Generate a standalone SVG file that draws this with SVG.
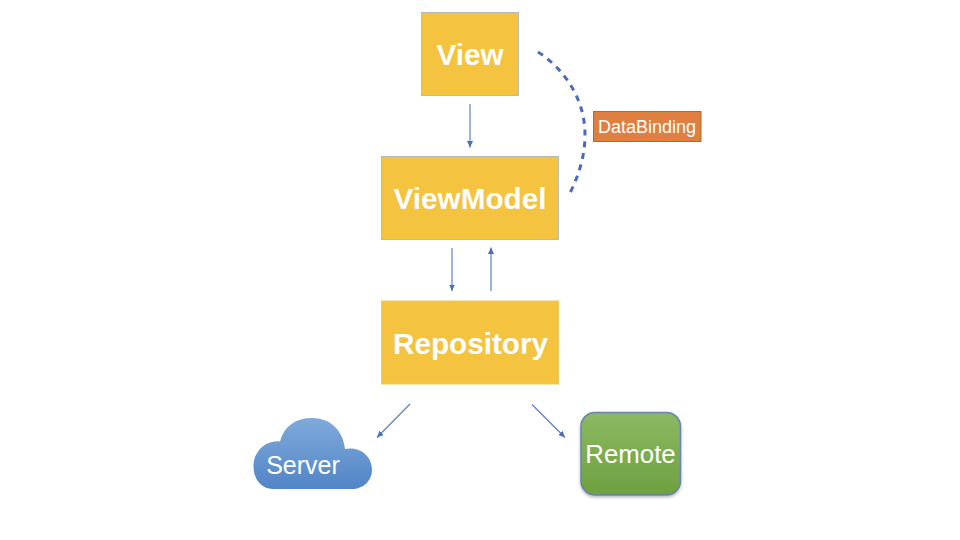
<svg xmlns="http://www.w3.org/2000/svg" width="960" height="540" viewBox="0 0 960 540">
<style>
.box{fill:#f4c33f;stroke:#b5bbb5;stroke-width:1}
.t{font-family:"Liberation Sans",Arial,sans-serif;fill:#fff;text-anchor:middle}
.b{font-weight:bold;font-size:29.7px}
.c{fill:none;stroke:#5f80c6;stroke-width:1.200}
</style>
<defs>
<marker id="a" markerUnits="userSpaceOnUse" markerWidth="8" markerHeight="8" refX="6.500" refY="4" orient="auto"><path d="M0 1L6.500 4L0 7z" fill="#4a6fbd"/></marker>
<linearGradient id="g" x1="0" y1="0" x2="0" y2="1"><stop offset="0" stop-color="#8cb964"/><stop offset="1" stop-color="#6ea03f"/></linearGradient>
<linearGradient id="s" x1="0" y1="0" x2="0" y2="1"><stop offset="0" stop-color="#7faadb"/><stop offset="1" stop-color="#5285c6"/></linearGradient>
<filter id="sh" x="-10%" y="-10%" width="120%" height="120%"><feDropShadow dx="0" dy="1.500" stdDeviation="1.500" flood-color="#000" flood-opacity=".3"/></filter>
</defs>
<g id="connectors">
<path class="c" marker-end="url(#a)" d="M470 104V147.500"/>
<path class="c" marker-end="url(#a)" d="M452 248V291"/>
<path class="c" marker-end="url(#a)" d="M491 291V247.500"/>
<path class="c" marker-end="url(#a)" d="M410 404L377 437.500"/>
<path class="c" marker-end="url(#a)" d="M532 404.500L565 437.500"/>
<path d="M538 52C560 66 585 95 585 135C585 156 579 175 569 195" fill="none" stroke="#4a6bbd" stroke-width="3" stroke-dasharray="6 5.750"/>
</g>
<g id="view"><rect class="box" x="421.500" y="12.500" width="97" height="83"/><text class="t b" x="470" y="64.500">View</text></g>
<g id="viewmodel"><rect class="box" x="381.500" y="156.500" width="177" height="83"/><text class="t b" x="470" y="209">ViewModel</text></g>
<g id="repository"><rect x="381.500" y="301" width="177" height="83" fill="#f4c33f" stroke="#f0c75a"/><text class="t b" x="470.500" y="353.500">Repository</text></g>
<g id="databinding"><rect x="593.500" y="111.500" width="107.500" height="30" fill="#e08040" stroke="#ad6a35"/><text class="t" x="647" y="133" font-size="18">DataBinding</text></g>
<g id="server"><path d="M280 441.500C284 426 296 418 312 418C330 418 343 430 345 449C360 446 372 456 372 470C372 481 363 489 352 489H274C262 489 253.500 480 253.500 466C253.500 452 265 440 280 441.500Z" fill="url(#s)"/><text class="t" x="303" y="473.500" font-size="25">Server</text></g>
<g id="remote"><rect x="581" y="412.500" width="99.500" height="82.500" rx="14" fill="url(#g)" stroke="#6b82b0" stroke-width="1.500" filter="url(#sh)"/><text class="t" x="630.500" y="463" font-size="25.800">Remote</text></g>
</svg>
